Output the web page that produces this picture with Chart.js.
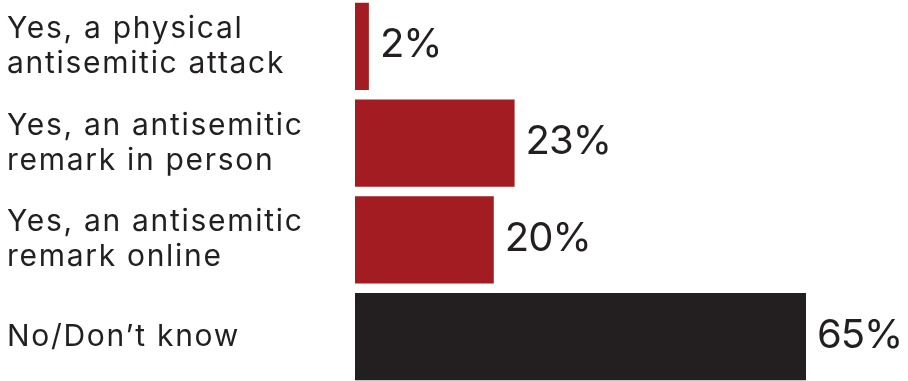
<!DOCTYPE html>
<html>
<head>
<meta charset="utf-8">
<script src="https://cdn.jsdelivr.net/npm/chart.js@4"></script>
<style>
  html, body { margin: 0; padding: 0; background: #ffffff; overflow: hidden; }
  #wrap { position: absolute; left: 0; top: -2px; width: 908px; height: 387px; }
</style>
</head>
<body>
<div id="wrap"><canvas id="c"></canvas></div>
<script>
const categories = [
  ["Yes, a physical", "antisemitic attack"],
  ["Yes, an antisemitic", "remark in person"],
  ["Yes, an antisemitic", "remark online"],
  "No/Don\u2019t know"
];
const values = [2, 23, 20, 65];
const valueLabels = ["2%", "23%", "20%", "65%"];
const barColors = ["#a21c21", "#a21c21", "#a21c21", "#231f20"];

const FONT = "Inter, 'Open Sans', sans-serif";

const spacingPlugin = {
  id: 'spacing',
  beforeDraw(chart) { chart.ctx.letterSpacing = '1.7px'; }
};

const valueLabelPlugin = {
  id: 'valueLabels',
  afterDatasetsDraw(chart) {
    const ctx = chart.ctx;
    const meta = chart.getDatasetMeta(0);
    ctx.save();
    ctx.letterSpacing = '-1px';
    ctx.font = "400 40px " + FONT;
    ctx.fillStyle = "#231f20";
    ctx.textAlign = "left";
    ctx.textBaseline = "middle";
    meta.data.forEach((bar, i) => {
      ctx.fillText(valueLabels[i], bar.x + 11, bar.y - 1);
    });
    ctx.restore();
  }
};

new Chart(document.getElementById('c'), {
  type: 'bar',
  data: {
    labels: categories,
    datasets: [{
      data: values,
      backgroundColor: barColors,
      borderWidth: 0,
      barPercentage: 0.9,
      categoryPercentage: 1.0
    }]
  },
  options: {
    indexAxis: 'y',
    responsive: true,
    maintainAspectRatio: false,
    animation: false,
    layout: { padding: { left: 7, right: 0, top: 0, bottom: 0 } },
    plugins: { legend: { display: false }, tooltip: { enabled: false } },
    scales: {
      x: { display: false, min: 0, max: 79.7 },
      y: {
        grid: { display: false },
        border: { display: false },
        ticks: {
          crossAlign: 'far',
          color: "#231f20",
          font: { family: FONT, size: 30, lineHeight: 1.17 },
          padding: 0
        },
        afterFit(scale) {
          scale.width = 348;
          scale.paddingTop = 0;
          scale.paddingBottom = 0;
        }
      }
    }
  },
  plugins: [spacingPlugin, valueLabelPlugin]
});
</script>
</body>
</html>
